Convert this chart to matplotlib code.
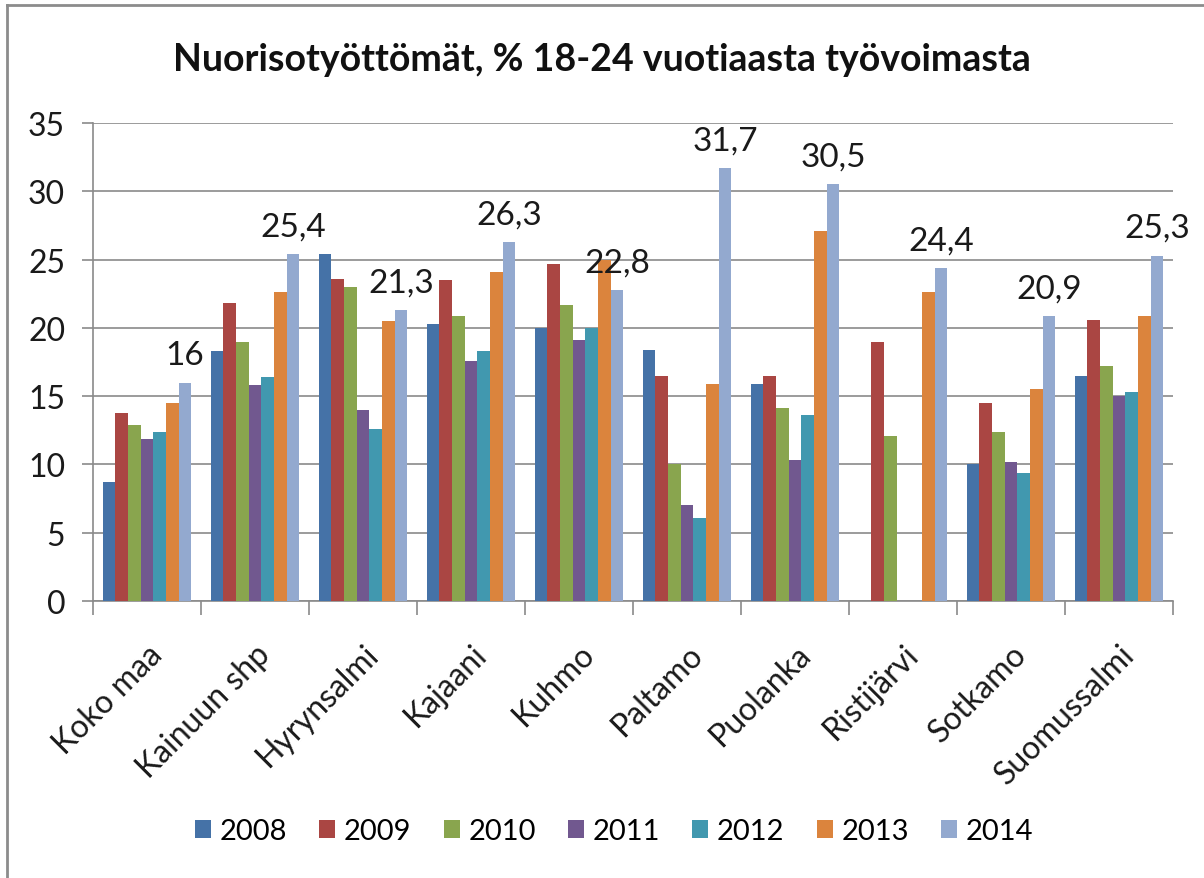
import matplotlib
matplotlib.use("Agg")
import matplotlib.pyplot as plt
import numpy as np
from matplotlib.lines import Line2D

plt.rcParams['font.family'] = ['Lato', 'DejaVu Sans']

categories = ["Koko maa", "Kainuun shp", "Hyrynsalmi", "Kajaani", "Kuhmo",
              "Paltamo", "Puolanka", "Ristijärvi", "Sotkamo", "Suomussalmi"]
years = ["2008", "2009", "2010", "2011", "2012", "2013", "2014"]

v2008 = [8.7, 18.3, 25.4, 20.3, 20.0, 18.4, 15.9, np.nan, 10.0, 16.5]
v2009 = [13.8, 21.8, 23.6, 23.5, 24.7, 16.5, 16.5, 19.0, 14.5, 20.6]
v2010 = [12.9, 19.0, 23.0, 20.9, 21.7, 10.0, 14.1, 12.1, 12.4, 17.2]
v2011 = [11.9, 15.8, 14.0, 17.6, 19.1, 7.0, 10.3, np.nan, 10.2, 15.0]
v2012 = [12.4, 16.4, 12.6, 18.3, 20.0, 6.1, 13.6, np.nan, 9.4, 15.3]
v2013 = [14.5, 22.6, 20.5, 24.1, 25.0, 15.9, 27.1, 22.6, 15.5, 20.9]
v2014 = [16.0, 25.4, 21.3, 26.3, 22.8, 31.7, 30.5, 24.4, 20.9, 25.3]
series = [v2008, v2009, v2010, v2011, v2012, v2013, v2014]

colors = ["#4572A7", "#AA4643", "#89A54E", "#71588F", "#4198AF", "#DB843D", "#93A9CF"]
grid_c = "#8a8a8a"

fig = plt.figure(figsize=(12.04, 8.79), dpi=100)
ax = fig.add_axes([0.0772, 0.3151, 0.8971, 0.5438])

x = np.arange(len(categories))
n = len(series)
w = 0.117
for i, (vals, yr, c) in enumerate(zip(series, years, colors)):
    pos = x + (i - (n - 1) / 2) * w
    ax.bar(pos, vals, width=w, color=c, label=yr, zorder=3)
    if yr == "2014":
        # only the last year carries data labels
        for p, v in zip(pos, vals):
            ax.annotate(f"{v:g}".replace(".", ","), (p, v), xytext=(0, 9),
                        textcoords="offset points", ha="center", va="bottom",
                        fontsize=24, color="#1a1a1a", zorder=5)

ax.set_xlim(-0.5, len(categories) - 0.5)
ax.set_ylim(0, 35)
ax.set_yticks(range(0, 36, 5))
ax.yaxis.grid(True, color=grid_c, linewidth=1.2, zorder=0)
ax.tick_params(axis="y", labelsize=23, length=8, width=1.2, color=grid_c, pad=12,
               labelcolor="#1a1a1a")

ax.set_xticks(x)
ax.set_xticklabels(categories, rotation=45, ha="right", va="top",
                   rotation_mode="anchor", fontsize=23, color="#1a1a1a")
ax.tick_params(axis="x", which="major", length=0, pad=27)
ax.set_xticks(np.arange(-0.5, len(categories), 1.0), minor=True)
ax.tick_params(axis="x", which="minor", length=10, width=1.2, color=grid_c)

for s in ["top", "right"]:
    ax.spines[s].set_visible(False)
for s in ["left", "bottom"]:
    ax.spines[s].set_color(grid_c)
    ax.spines[s].set_linewidth(1.2)

fig.text(0.5, 0.932, "Nuorisotyöttömät, % 18-24 vuotiaasta työvoimasta",
         ha="center", va="center", fontsize=27, fontweight="bold", color="#111111")

fig.legend(loc="center", bbox_to_anchor=(0.51, 0.053), ncol=7, frameon=False,
           fontsize=21, handlelength=0.55, handleheight=0.55, handletextpad=0.3,
           columnspacing=1.1)

# outer chart frame (left and top edges visible)
fig.add_artist(Line2D([0.006, 0.006], [0.0, 0.993], transform=fig.transFigure,
                      color="#8c8c8c", linewidth=2))
fig.add_artist(Line2D([0.006, 1.0], [0.993, 0.993], transform=fig.transFigure,
                      color="#8c8c8c", linewidth=2))

fig.savefig("out.png", dpi=100, facecolor="white")
